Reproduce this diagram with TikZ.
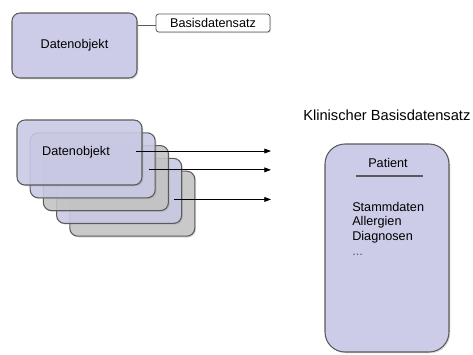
\documentclass[tikz,border=0pt]{standalone}
\usepackage{fontspec}
\setmainfont{Liberation Sans}
\usetikzlibrary{arrows.meta,shadows}
\definecolor{objfill}{RGB}{204,204,232}
\definecolor{grayfill}{RGB}{198,198,198}
\definecolor{edgegray}{RGB}{90,90,90}
\tikzset{
  objbox/.style={draw=edgegray, line width=0.8pt, rounded corners=6pt, inner sep=0pt,
    minimum width=93.75pt, minimum height=48.75pt, fill=objfill,
    drop shadow={shadow xshift=1pt, shadow yshift=-1pt, opacity=0.25},
    font=\fontsize{9.5}{11}\selectfont},
  card/.style={objbox, fill opacity=0.85, text opacity=1},
  tagbox/.style={draw=edgegray, line width=0.6pt, rounded corners=2pt, inner sep=0pt,
    minimum width=85.5pt, minimum height=13.5pt, fill=white,
    drop shadow={shadow xshift=0.8pt, shadow yshift=-0.8pt, opacity=0.25},
    font=\fontsize{9.5}{11}\selectfont},
  flow/.style={-{Triangle[length=5pt,width=3.6pt]}, line width=0.6pt},
  plain/.style={inner sep=0pt, font=\fontsize{9.5}{11}\selectfont}
}
\begin{document}
\begin{tikzpicture}[x=0.75pt,y=0.75pt,yscale=-1,xscale=1]
\useasboundingbox (0,0) rectangle (473,354);

% single data object with its tag
\node [objbox] (obj) at (74.5,45.5) {Datenobjekt};
\node [tagbox] (basis) at (213,23) {Basisdatensatz};
\draw [edgegray, line width=0.6pt] ([yshift=2pt]basis.west) -- ([yshift=2pt]basis.west -| obj.east);

% stack of data objects, back to front
\foreach \i/\c in {5/grayfill,4/objfill,3/grayfill,2/objfill,1/objfill}
  \node [card, fill=\c] (card\i) at ({79.5+13.2*(\i-1)},{152.5+12.8*(\i-1)}) {};
\node [plain] (objtext) at ([xshift=-2.6pt]card1.center) {Datenobjekt};

% arrows into the record (yshift is flipped by yscale=-1)
\coordinate (tip) at (271,0);
\coordinate (s1) at ([xshift=-5.2pt,yshift=-1.1pt]card1.east);
\coordinate (s2) at ([xshift=-5.2pt,yshift=3.4pt]card2.east);
\coordinate (s3) at ([xshift=-6pt,yshift=6.4pt]card4.east);
\draw [flow] (s1) -- (s1 -| tip);
\draw [flow] (s2) -- (s2 -| tip);
\draw [flow] (s3) -- (s3 -| tip);

% clinical base record
\node [plain, anchor=west, font=\fontsize{11}{13}\selectfont] (title) at (303,115) {Klinischer Basisdatensatz};
\node [objbox, rounded corners=15pt, minimum width=93pt, minimum height=156pt] (patient) at (387,248) {};
\node [plain] (ptitle) at (388,162.5) {Patient};
\draw [edgegray, line width=0.8pt] (356,176) -- (423,176);
\node [plain, anchor=north west, align=left, font=\fontsize{9.5}{10.9}\selectfont] (plist) at (352,202)
  {Stammdaten\\Allergien\\Diagnosen\\\textcolor{edgegray}{...}};
\end{tikzpicture}
\end{document}
